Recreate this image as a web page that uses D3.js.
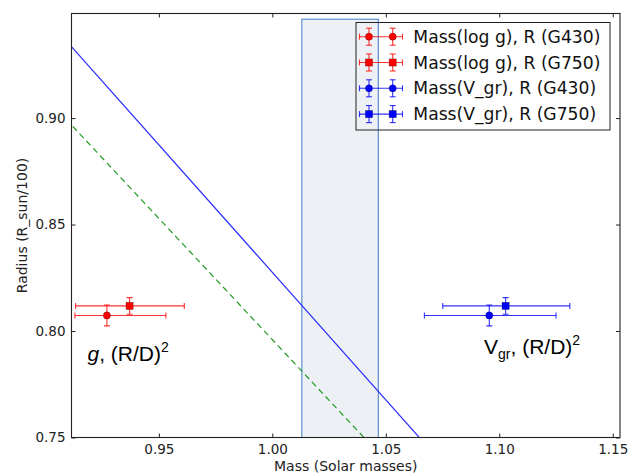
<!DOCTYPE html>
<html>
<head>
<meta charset="utf-8">
<script src="https://cdn.jsdelivr.net/npm/d3@7"></script>
<style>
  html, body { margin: 0; padding: 0; background: #fff; }
  svg { display: block; }
</style>
</head>
<body>
<svg id="chart" width="642" height="473"></svg>
<script>
// ---- data ----
const seriesLabels = ["Mass(log g), R (G430)", "Mass(log g), R (G750)", "Mass(V_gr), R (G430)", "Mass(V_gr), R (G750)"];
const seriesColors = ["#ff0000", "#ff0000", "#0000ff", "#0000ff"];
const seriesMarkers = ["circle", "square", "circle", "square"];
const mass = [0.9271, 0.9371, 1.0956, 1.1028];
const massErrLo = [0.0141, 0.0238, 0.0286, 0.0277];
const massErrHi = [0.0260, 0.0241, 0.0294, 0.0283];
const radius = [0.8073, 0.8118, 0.8073, 0.8118];
const radiusErr = [0.0049, 0.0039, 0.0049, 0.0039];

const lineMass = [0.90, 1.10];
const blueLineRadius = [0.9473, 0.7078];
const greenLineRadius = [0.9098, 0.6821];

const bandMass = [1.0130, 1.0467];
const bandRadius = [0.74, 0.9464];

const xTicks = [0.95, 1.00, 1.05, 1.10, 1.15];
const yTicks = [0.75, 0.80, 0.85, 0.90];
const xDomain = [0.9115, 1.1532];
const yDomain = [0.75, 0.9491];

// ---- layout ----
const L = 71.5, R = 620, T = 13.5, B = 437.5;
const svg = d3.select("#chart");
const x = d3.scaleLinear().domain(xDomain).range([L, R]);
const y = d3.scaleLinear().domain(yDomain).range([B, T]);

svg.append("defs").append("clipPath").attr("id", "clip")
  .append("rect").attr("x", L).attr("y", T).attr("width", R - L).attr("height", B - T);

const plot = svg.append("g").attr("clip-path", "url(#clip)");

// shaded band
plot.append("rect")
  .attr("x", x(bandMass[0])).attr("y", y(bandRadius[1]))
  .attr("width", x(bandMass[1]) - x(bandMass[0]))
  .attr("height", y(bandRadius[0]) - y(bandRadius[1]))
  .attr("fill", "#edf0f4").attr("stroke", "#5b8fd0").attr("stroke-width", 1.2);

// lines
const lineGen = d3.line().x(d => x(d[0])).y(d => y(d[1]));
plot.append("path").datum(lineMass.map((m, i) => [m, greenLineRadius[i]]))
  .attr("d", lineGen).attr("fill", "none").attr("stroke", "#219a21")
  .attr("stroke-width", 1.2).attr("stroke-dasharray", "6,4");
plot.append("path").datum(lineMass.map((m, i) => [m, blueLineRadius[i]]))
  .attr("d", lineGen).attr("fill", "none").attr("stroke", "#2a2aff")
  .attr("stroke-width", 1.2);

// error bars + markers
const cap = 3;
function drawMarker(g, type, cx, cy, color, size) {
  if (type === "circle") {
    g.append("circle").attr("cx", cx).attr("cy", cy).attr("r", size)
      .attr("fill", color).attr("stroke", "#000").attr("stroke-width", 0.5).attr("stroke-opacity", 0.5);
  } else {
    g.append("rect").attr("x", cx - size).attr("y", cy - size)
      .attr("width", 2 * size).attr("height", 2 * size)
      .attr("fill", color).attr("stroke", "#000").attr("stroke-width", 0.5).attr("stroke-opacity", 0.5);
  }
}
function seg(g, x1, y1, x2, y2, color) {
  g.append("line").attr("x1", x1).attr("y1", y1).attr("x2", x2).attr("y2", y2)
    .attr("stroke", color).attr("stroke-width", 1.1).attr("stroke-opacity", 0.8);
}
mass.forEach((m, i) => {
  const g = plot.append("g");
  const c = seriesColors[i];
  const cx = x(m), cy = y(radius[i]);
  const xl = x(m - massErrLo[i]), xr = x(m + massErrHi[i]);
  const yt = y(radius[i] + radiusErr[i]), yb = y(radius[i] - radiusErr[i]);
  seg(g, xl, cy, xr, cy, c);
  seg(g, xl, cy - cap, xl, cy + cap, c);
  seg(g, xr, cy - cap, xr, cy + cap, c);
  seg(g, cx, yt, cx, yb, c);
  seg(g, cx - cap, yt, cx + cap, yt, c);
  seg(g, cx - cap, yb, cx + cap, yb, c);
  drawMarker(g, seriesMarkers[i], cx, cy, c, 3.6);
});

// annotations
const ann1 = svg.append("text").attr("x", 87.5).attr("y", 361)
  .attr("font-family", "Liberation Sans, Arial, sans-serif").attr("font-size", 21).attr("fill", "#000");
ann1.append("tspan").attr("font-style", "italic").text("g");
ann1.append("tspan").text(", (R/D)");
ann1.append("tspan").attr("font-size", 14).attr("dy", -9).text("2");

const ann2 = svg.append("text").attr("x", 484).attr("y", 354)
  .attr("font-family", "Liberation Sans, Arial, sans-serif").attr("font-size", 21).attr("fill", "#000");
ann2.append("tspan").text("V");
ann2.append("tspan").attr("font-size", 14).attr("dy", 5).text("gr");
ann2.append("tspan").attr("dy", -5).text(", (R/D)");
ann2.append("tspan").attr("font-size", 14).attr("dy", -9).text("2");

// axes
const font = "DejaVu Sans, sans-serif";
const axB = svg.append("g").attr("transform", `translate(0,${B})`)
  .call(d3.axisBottom(x).tickValues(xTicks).tickSize(-4).tickPadding(7).tickFormat(d3.format(".2f")));
const axL = svg.append("g").attr("transform", `translate(${L},0)`)
  .call(d3.axisLeft(y).tickValues(yTicks).tickSize(-4).tickPadding(6).tickFormat(d3.format(".2f")));
const axT = svg.append("g").attr("transform", `translate(0,${T})`)
  .call(d3.axisTop(x).tickValues(xTicks).tickSize(-4).tickFormat(""));
const axR = svg.append("g").attr("transform", `translate(${R},0)`)
  .call(d3.axisRight(y).tickValues(yTicks).tickSize(-4).tickFormat(""));
[axB, axL, axT, axR].forEach(a => {
  a.select(".domain").remove();
  a.selectAll(".tick line").attr("stroke", "#222").attr("stroke-width", 1);
  a.selectAll(".tick text").attr("font-family", font).attr("font-size", 13.5).attr("fill", "#222");
});

svg.append("rect").attr("x", L).attr("y", T).attr("width", R - L).attr("height", B - T)
  .attr("fill", "none").attr("stroke", "#222").attr("stroke-width", 1.1);

svg.append("text").attr("x", (L + R) / 2).attr("y", 470.5).attr("text-anchor", "middle")
  .attr("font-family", font).attr("font-size", 14).attr("fill", "#222").text("Mass (Solar masses)");
svg.append("text").attr("transform", `translate(26.5,${(T + B) / 2}) rotate(-90)`)
  .attr("text-anchor", "middle").attr("font-family", font).attr("font-size", 14).attr("fill", "#222")
  .text("Radius (R_sun/100)");

// legend
const lg = svg.append("g");
lg.append("rect").attr("x", 356).attr("y", 22.5).attr("width", 254).attr("height", 107.5)
  .attr("fill", "none").attr("stroke", "#222").attr("stroke-width", 1);
seriesLabels.forEach((lab, i) => {
  const cy = 36.7 + i * 25.8;
  const c = seriesColors[i];
  const g = lg.append("g");
  const x1 = 359.5, x2 = 402.5;
  seg(g, x1, cy, x2, cy, c);
  seg(g, x1, cy - 3, x1, cy + 3, c);
  seg(g, x2, cy - 3, x2, cy + 3, c);
  [369, 392.7].forEach(mx => {
    seg(g, mx, cy - 8.5, mx, cy + 8.5, c);
    seg(g, mx - 3, cy - 8.5, mx + 3, cy - 8.5, c);
    seg(g, mx - 3, cy + 8.5, mx + 3, cy + 8.5, c);
    drawMarker(g, seriesMarkers[i], mx, cy, c, 3.6);
  });
  g.append("text").attr("x", 413.3).attr("y", cy).attr("dy", "0.36em")
    .attr("font-family", font).attr("font-size", 17.2).attr("fill", "#111").text(lab);
});
</script>
</body>
</html>
